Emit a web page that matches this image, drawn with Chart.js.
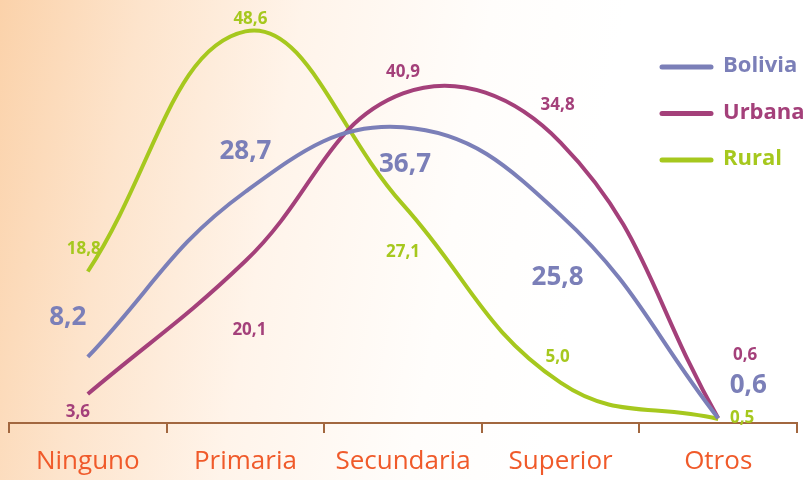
<!DOCTYPE html>
<html>
<head>
<meta charset="utf-8">
<script src="https://cdn.jsdelivr.net/npm/chart.js@4.4.1/dist/chart.umd.min.js"></script>
<style>
  html, body { margin: 0; padding: 0; }
  body {
    width: 811px; height: 480px; overflow: hidden;
    background: linear-gradient(100deg, #fbd2aa 0%, #fde4cc 16%, #fff4ea 34%, #fffdfb 55%, #ffffff 70%);
  }
  #wrap { position: relative; width: 811px; height: 480px; }
  canvas { display: block; }
</style>
</head>
<body>
<div id="wrap"><canvas id="grafico" width="811" height="480"></canvas></div>
<script>
// categorias y series (porcentajes)
const categorias = ['Ninguno', 'Primaria', 'Secundaria', 'Superior', 'Otros'];
const bolivia = [8.2, 28.7, 36.7, 25.8, 0.6];
const urbana = [3.6, 20.1, 40.9, 34.8, 0.6];
const rural = [18.8, 48.6, 27.1, 5.0, 0.5];

// desplazamiento de las etiquetas respecto a cada punto (px)
const offBolivia = [[-20, -39], [0, -40], [2, 37], [-3, 62], [30, -33]];
const offUrbana = [[-10, 18], [4, 69], [0, -21], [-3, -37], [27, -63]];
const offRural = [[-4, -22], [5, -12], [0, 48], [-3, -26], [24, -1]];

const marron = '#a2673f';

// etiquetas de valores con coma decimal
const etiquetas = {
  id: 'etiquetas',
  afterDatasetsDraw(chart) {
    const ctx = chart.ctx;
    ctx.save();
    ctx.textAlign = 'center';
    ctx.textBaseline = 'middle';
    chart.data.datasets.forEach((ds, i) => {
      const meta = chart.getDatasetMeta(i);
      ctx.fillStyle = ds.borderColor;
      ctx.font = 'bold ' + ds.labelSize + 'px "Open Sans"';
      meta.data.forEach((pt, j) => {
        const txt = ds.data[j].toFixed(1).replace('.', ',');
        ctx.fillText(txt, pt.x + ds.offsets[j][0], pt.y + ds.offsets[j][1]);
      });
    });
    ctx.restore();
  }
};

// leyenda a la derecha
const leyenda = {
  id: 'leyenda',
  afterDraw(chart) {
    const ctx = chart.ctx;
    ctx.save();
    ctx.font = 'bold 22px "Open Sans"';
    ctx.textBaseline = 'middle';
    chart.data.datasets.forEach((ds, i) => {
      const y = 67 + i * 46.5;
      ctx.strokeStyle = ds.borderColor;
      ctx.lineWidth = 5;
      ctx.lineCap = 'round';
      ctx.beginPath();
      ctx.moveTo(662, y);
      ctx.lineTo(711, y);
      ctx.stroke();
      ctx.fillStyle = ds.borderColor;
      ctx.fillText(ds.label, 723, y - 1);
    });
    ctx.restore();
  }
};

new Chart(document.getElementById('grafico'), {
  type: 'line',
  data: {
    labels: categorias,
    datasets: [
      { label: 'Bolivia', data: bolivia, borderColor: '#7b7fb8', offsets: offBolivia, labelSize: 26 },
      { label: 'Urbana', data: urbana, borderColor: '#a4407a', offsets: offUrbana, labelSize: 17 },
      { label: 'Rural', data: rural, borderColor: '#a6c81e', offsets: offRural, labelSize: 17 }
    ].map(d => Object.assign(d, { borderWidth: 4, tension: 0.42, pointRadius: 0, fill: false }))
  },
  options: {
    responsive: false,
    animation: false,
    devicePixelRatio: 1,
    layout: { padding: { left: 9, right: 14, top: 4, bottom: 0 } },
    plugins: { legend: { display: false }, tooltip: { enabled: false } },
    scales: {
      x: {
        offset: true,
        afterFit(scale) { scale.height = 57; },
        grid: { offset: true, drawOnChartArea: false, tickLength: 10, color: marron, lineWidth: 2 },
        border: { color: marron, width: 2 },
        ticks: { color: '#f05a2a', font: { family: 'Open Sans', size: 26, lineHeight: 1 }, padding: 16, maxRotation: 0 }
      },
      y: { display: false, min: 0, max: 52 }
    }
  },
  plugins: [etiquetas, leyenda]
});
</script>
</body>
</html>
